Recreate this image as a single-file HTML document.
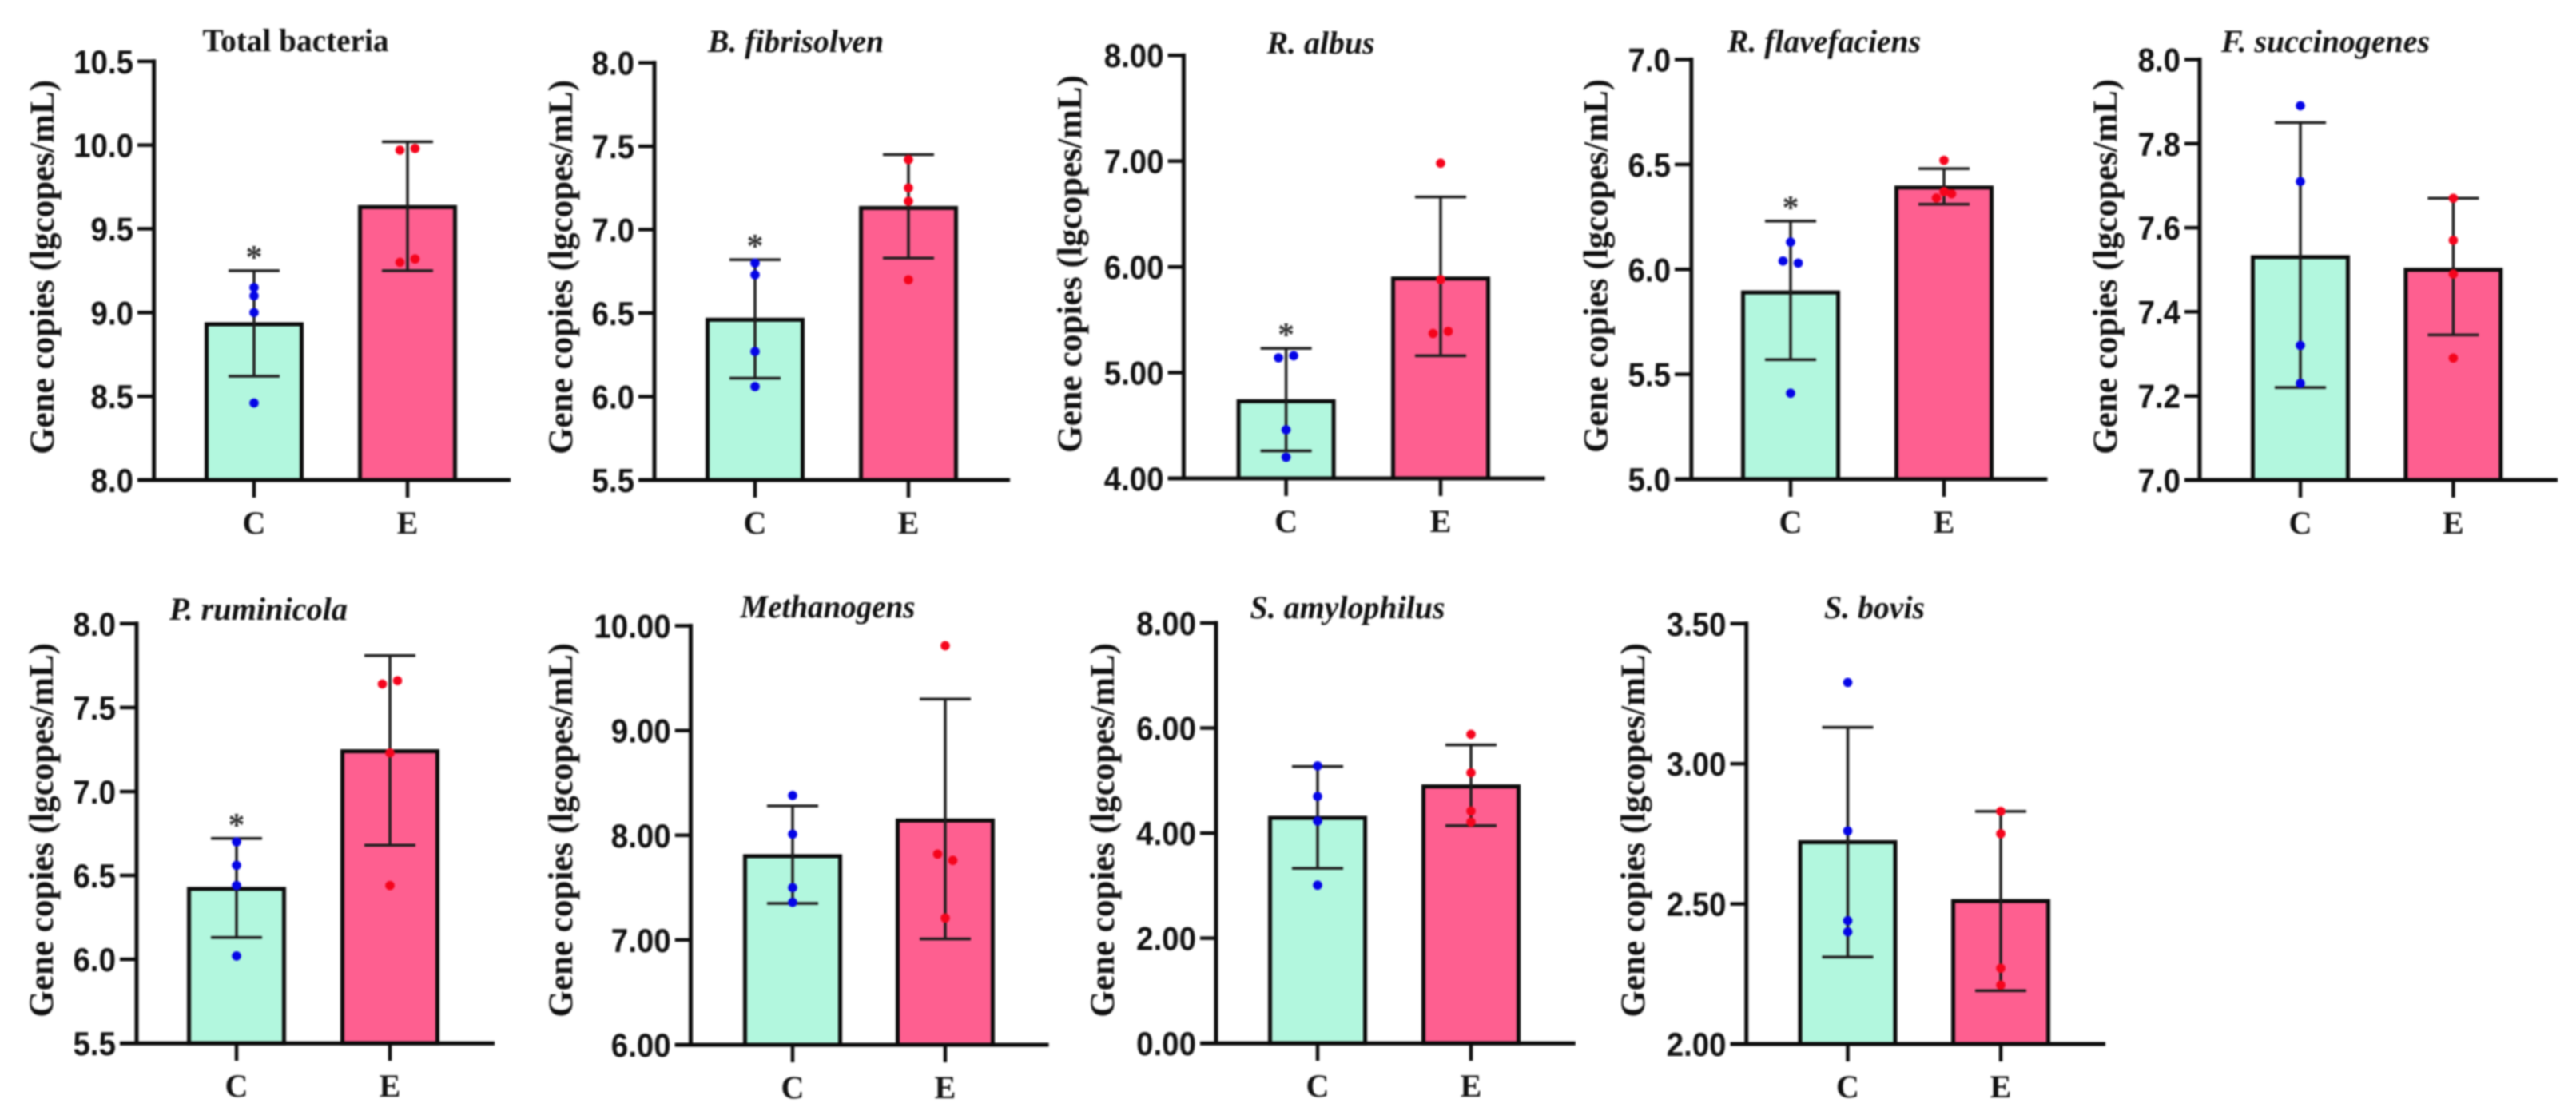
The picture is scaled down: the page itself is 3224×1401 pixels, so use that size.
<!DOCTYPE html>
<html lang="en">
<head>
<meta charset="utf-8">
<title>Rumen microbial gene copies</title>
<style>
html,body{margin:0;padding:0;background:#fff;width:3224px;height:1401px;overflow:hidden}
svg{display:block;filter:blur(1px)}
</style>
</head>
<body>
<svg id="fig" xmlns="http://www.w3.org/2000/svg" width="3224" height="1401" viewBox="0 0 3224 1401"></svg>
<script>
// ---- data ----
const categories = ['C', 'E'];
const yAxisTitle = 'Gene copies (lgcopes/mL)';
const panelTitles = ['Total bacteria', 'B. fibrisolven', 'R. albus', 'R. flavefaciens', 'F. succinogenes', 'P. ruminicola', 'Methanogens', 'S. amylophilus', 'S. bovis'];
const tickLabels = [
  ['8.0', '8.5', '9.0', '9.5', '10.0', '10.5'],
  ['5.5', '6.0', '6.5', '7.0', '7.5', '8.0'],
  ['4.00', '5.00', '6.00', '7.00', '8.00'],
  ['5.0', '5.5', '6.0', '6.5', '7.0'],
  ['7.0', '7.2', '7.4', '7.6', '7.8', '8.0'],
  ['5.5', '6.0', '6.5', '7.0', '7.5', '8.0'],
  ['6.00', '7.00', '8.00', '9.00', '10.00'],
  ['0.00', '2.00', '4.00', '6.00', '8.00'],
  ['2.00', '2.50', '3.00', '3.50']
];
const meanC = [8.93, 6.46, 4.73, 5.89, 7.53, 6.42, 7.80, 4.29, 2.72];
const meanE = [9.63, 7.13, 5.89, 6.39, 7.50, 7.24, 8.14, 4.89, 2.51];
const errHighC = [9.25, 6.82, 5.23, 6.23, 7.85, 6.72, 8.28, 5.27, 3.13];
const errLowC = [8.62, 6.11, 4.26, 5.57, 7.22, 6.13, 7.35, 3.33, 2.31];
const errHighE = [10.02, 7.45, 6.66, 6.48, 7.67, 7.81, 9.30, 5.68, 2.83];
const errLowE = [9.25, 6.83, 5.16, 6.31, 7.345, 6.68, 7.01, 4.14, 2.19];
const pointsC = [
  [9.15, 9.10, 9.00, 8.46],
  [6.80, 6.73, 6.27, 6.06],
  [5.14, 5.16, 4.46, 4.20],
  [6.13, 6.04, 6.03, 5.41],
  [7.89, 7.71, 7.32, 7.23],
  [6.70, 6.56, 6.44, 6.02],
  [8.38, 8.01, 7.50, 7.36],
  [5.28, 4.70, 4.23, 3.01],
  [3.29, 2.76, 2.44, 2.40]
];
const pointsE = [
  [9.97, 9.98, 9.30, 9.32],
  [7.42, 7.25, 7.17, 6.70],
  [6.98, 5.88, 5.37, 5.39],
  [6.52, 6.34, 6.37, 6.36],
  [7.67, 7.57, 7.49, 7.29],
  [7.64, 7.66, 7.23, 6.44],
  [9.81, 7.82, 7.76, 7.21],
  [5.88, 5.15, 4.42, 4.21],
  [2.83, 2.75, 2.27, 2.21]
];
const significant = [true, true, true, true, false, true, false, false, false];

// ---- layout (pixels, one frame per panel; no values here) ----
const frames = [
  {ax:192.7, tl:172, end:639, c:318, e:510, top:76.8, base:601, tx:370, ty:64, tw:233, yx:67, ys:100, ye:569},
  {ax:819, tl:799, end:1264, c:945, e:1137, top:78.6, base:601, tx:996, ty:65, tw:220, yx:716, ys:100, ye:569},
  {ax:1481.4, tl:1461.6, end:1933.7, c:1609.6, e:1803, top:69.2, base:599, tx:1653, ty:67, tw:135, yx:1353, ys:94, ye:567},
  {ax:2116.8, tl:2096, end:2562.4, c:2241, e:2433, top:74.5, base:600, tx:2283, ty:65, tw:242, yx:2011.5, ys:99, ye:567},
  {ax:2753, tl:2734, end:3201, c:2879, e:3070.4, top:74.5, base:601, tx:2910.5, ty:65, tw:261, yx:2649, ys:99, ye:569},
  {ax:171, tl:150, end:619, c:296, e:488, top:780.8, base:1306.2, tx:323.5, ty:776, tw:223, yx:66, ys:805, ye:1273.6},
  {ax:864.5, tl:844.7, end:1312.6, c:992, e:1183, top:783.5, base:1308, tx:1036, ty:773, tw:219, yx:716, ys:805, ye:1273.6},
  {ax:1522, tl:1502, end:1971.7, c:1649, e:1841, top:780, base:1306.2, tx:1686.5, ty:774, tw:244, yx:1394, ys:805, ye:1273.6},
  {ax:2185.7, tl:2165.6, end:2635, c:2312.5, e:2504, top:780.8, base:1307, tx:2346, ty:774, tw:126, yx:2058, ys:805, ye:1273.6}
];

const SVG_NS = 'http://www.w3.org/2000/svg';
const BAR_W = 124, BAR_STROKE = 5, CAP_HALF = 32, DOT_R = 5.8, JITTER = 9.5, CLUSTER_PX = 9.5;
const fig = document.getElementById('fig');

function make(tag, parent, attrs, text) {
  const node = document.createElementNS(SVG_NS, tag);
  for (const k in attrs) node.setAttribute(k, attrs[k]);
  if (text !== undefined) node.textContent = text;
  parent.appendChild(node);
  return node;
}

// y axis scale built from a panel's tick labels
function yScale(ticks, f) {
  const lo = parseFloat(ticks[0]);
  const hi = parseFloat(ticks[ticks.length - 1]);
  return v => f.base - (v - lo) / (hi - lo) * (f.base - f.top);
}

// horizontal offsets: points that would overlap spread sideways, in array order
function swarmOffsets(values, y) {
  const order = values.map((v, i) => i).sort((a, b) => y(values[a]) - y(values[b]));
  const offsets = values.map(() => 0);
  let start = 0;
  for (let i = 1; i <= order.length; i++) {
    const split = i === order.length || y(values[order[i]]) - y(values[order[i - 1]]) > CLUSTER_PX;
    if (split) {
      const members = order.slice(start, i).sort((a, b) => a - b);
      if (members.length > 1) {
        const mid = (members.length - 1) / 2;
        members.forEach((m, k) => { offsets[m] = (k - mid) / mid * JITTER; });
      }
      start = i;
    }
  }
  return offsets;
}

function drawGroup(g, f, y, cx, mean, hi, lo, pts, fill, dotFill, label) {
  const bar = make('rect', g, {
    x: cx - BAR_W / 2 + BAR_STROKE / 2, y: y(mean), width: BAR_W - BAR_STROKE,
    height: f.base - y(mean), fill: fill, stroke: '#0a0a0a', 'stroke-width': BAR_STROKE
  });
  
  

  const stem = make('line', g, {x1: cx, x2: cx, y1: y(hi), y2: y(lo), stroke: '#1c1c1c', 'stroke-width': 3.5});
  
  

  [hi, lo].forEach(v => {
    const cap = make('line', g, {x1: cx - CAP_HALF, x2: cx + CAP_HALF, y1: y(v), y2: y(v), stroke: '#1c1c1c', 'stroke-width': 3.5});
    
    
  });

  const off = swarmOffsets(pts, y);
  pts.forEach((v, i) => {
    const dot = make('circle', g, {cx: cx + off[i], cy: y(v), r: DOT_R, fill: dotFill});
    
    
  });
}

panelTitles.forEach((title, p) => {
  const f = frames[p];
  const ticks = tickLabels[p];
  const y = yScale(ticks, f);

  const g = make('g', fig, {});
  
  

  const head = make('text', g, {
    x: f.tx, y: f.ty, 'text-anchor': 'middle', textLength: f.tw, lengthAdjust: 'spacingAndGlyphs',
    'font-family': '"Liberation Serif", serif', 'font-weight': 'bold',
    'font-style': p === 0 ? 'normal' : 'italic', 'font-size': 40, fill: '#111'
  }, title);
  
  

  const yLen = f.ye - f.ys, yMid = (f.ys + f.ye) / 2;
  const yTitle = make('text', g, {
    x: f.yx, y: yMid, 'text-anchor': 'middle', transform: 'rotate(-90 ' + f.yx + ' ' + yMid + ')',
    textLength: yLen, lengthAdjust: 'spacingAndGlyphs',
    'font-family': '"Liberation Serif", serif', 'font-weight': 'bold', 'font-size': 43, fill: '#111'
  }, yAxisTitle);
  
  

  drawGroup(g, f, y, f.c, meanC[p], errHighC[p], errLowC[p], pointsC[p], '#b2f7de', '#0505e6', 'control');
  drawGroup(g, f, y, f.e, meanE[p], errHighE[p], errLowE[p], pointsE[p], '#fe5f90', '#f5041c', 'experimental');

  if (significant[p]) {
    const star = make('text', g, {
      x: f.c, y: y(errHighC[p]) - 3, 'text-anchor': 'middle',
      'font-family': '"Liberation Serif", serif', 'font-weight': 'bold', 'font-size': 42, fill: '#333'
    }, '*');
    
    
  }

  const yAxis = make('line', g, {x1: f.ax, x2: f.ax, y1: y(parseFloat(ticks[ticks.length - 1])) - 2.5, y2: f.base, stroke: '#0a0a0a', 'stroke-width': 5});
  
  

  const xAxis = make('line', g, {x1: f.tl, x2: f.end, y1: f.base, y2: f.base, stroke: '#0a0a0a', 'stroke-width': 5});
  
  

  ticks.forEach(t => {
    const v = parseFloat(t);
    const mark = make('line', g, {x1: f.tl, x2: f.ax, y1: y(v), y2: y(v), stroke: '#0a0a0a', 'stroke-width': 4.5});
    
    
    const labelWidth = (t.length - 1) * 21.4 + 10.7;
    const lab = make('text', g, {
      x: f.tl - 5, y: y(v) + 15, 'text-anchor': 'end', textLength: labelWidth, lengthAdjust: 'spacingAndGlyphs',
      'font-family': '"Liberation Sans", sans-serif', 'font-weight': 'bold', 'font-size': 42, fill: '#111'
    }, t);
    
    
  });

  categories.forEach((c, i) => {
    const cx = i === 0 ? f.c : f.e;
    const mark = make('line', g, {x1: cx, x2: cx, y1: f.base, y2: f.base + 22, stroke: '#0a0a0a', 'stroke-width': 4.5});
    
    
    const lab = make('text', g, {
      x: cx, y: f.base + 67, 'text-anchor': 'middle',
      'font-family': '"Liberation Serif", serif', 'font-weight': 'bold', 'font-size': 40, fill: '#111'
    }, c);
    
    
  });
});
</script>
</body>
</html>
